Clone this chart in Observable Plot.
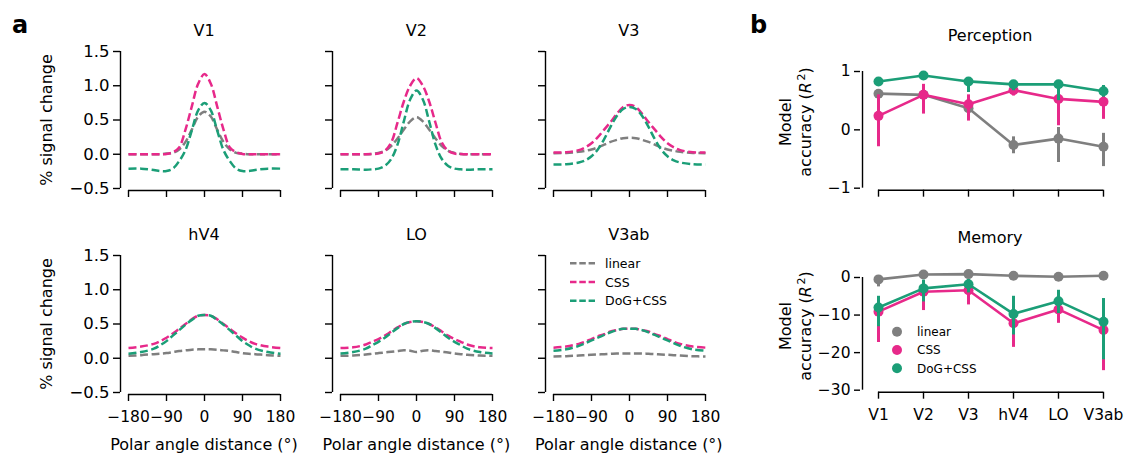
<!DOCTYPE html>
<html><head><meta charset="utf-8">
<script src="https://cdn.jsdelivr.net/npm/d3@7"></script>
<script src="https://cdn.jsdelivr.net/npm/@observablehq/plot@0.6"></script>
<style>
html,body{margin:0;padding:0;background:#fff;}
#root{position:relative;width:1127px;height:457px;overflow:hidden;font-family:"DejaVu Sans",sans-serif;}
#root svg{position:absolute;}
</style></head><body><div id="root"></div>
<script>
// ---------- data ----------
const angles = [-180,-150,-120,-105,-90,-75,-60,-45,-30,-15,0,15,30,45,60,75,90,105,120,150,180];
const models = ["linear","CSS","DoG+CSS"];
const modelColors = ["#7f7f7f","#e7298a","#1b9e77"];
const regions = ["V1","V2","V3","hV4","LO","V3ab"];
const xTicksA = [-180,-90,0,90,180];
const yTicksA = [-0.5,0,0.5,1,1.5];

const v1Linear = [0,0,0,0,0.01,0.02,0.07,0.18,0.36,0.55,0.62,0.55,0.36,0.18,0.07,0.02,0.01,0,0,0,0];
const v1Css    = [0,0,0,0,0.005,0.03,0.1,0.36,0.7,1.03,1.17,1.03,0.7,0.36,0.1,0.03,0.005,0,0,0,0];
const v1Dog    = [-0.21,-0.21,-0.23,-0.245,-0.245,-0.21,-0.1,0.06,0.35,0.64,0.75,0.64,0.35,0.06,-0.1,-0.21,-0.245,-0.245,-0.23,-0.21,-0.21];

const v2Linear = [0,0,0,0.005,0.02,0.05,0.12,0.23,0.36,0.48,0.54,0.48,0.36,0.23,0.12,0.05,0.02,0.005,0,0,0];
const v2Css    = [0,0,0,0.003,0.01,0.05,0.17,0.46,0.77,1.0,1.11,1.0,0.77,0.46,0.17,0.05,0.01,0.003,0,0,0];
const v2Dog    = [-0.22,-0.22,-0.225,-0.22,-0.21,-0.17,-0.07,0.14,0.48,0.8,0.93,0.8,0.48,0.14,-0.07,-0.17,-0.21,-0.22,-0.225,-0.22,-0.22];

const v3Linear = [0.015,0.02,0.035,0.05,0.07,0.1,0.14,0.18,0.21,0.235,0.24,0.235,0.21,0.18,0.14,0.1,0.07,0.05,0.035,0.02,0.015];
const v3Css    = [0.025,0.03,0.06,0.1,0.16,0.25,0.36,0.47,0.59,0.69,0.72,0.69,0.59,0.47,0.36,0.25,0.16,0.1,0.06,0.03,0.025];
const v3Dog    = [-0.15,-0.145,-0.12,-0.09,-0.03,0.07,0.22,0.4,0.56,0.66,0.69,0.66,0.56,0.4,0.22,0.07,-0.03,-0.09,-0.12,-0.145,-0.15];

const hv4Linear = [0.035,0.045,0.06,0.065,0.075,0.09,0.105,0.115,0.125,0.13,0.13,0.13,0.125,0.115,0.105,0.09,0.075,0.065,0.06,0.045,0.035];
const hv4Css    = [0.15,0.17,0.21,0.25,0.3,0.36,0.43,0.5,0.57,0.62,0.63,0.62,0.57,0.5,0.43,0.36,0.3,0.25,0.21,0.17,0.15];
const hv4Dog    = [0.065,0.09,0.14,0.19,0.25,0.33,0.41,0.49,0.56,0.62,0.63,0.62,0.56,0.49,0.41,0.33,0.25,0.19,0.14,0.09,0.065];

const loLinear = [0.035,0.04,0.055,0.065,0.075,0.085,0.095,0.105,0.115,0.11,0.09,0.11,0.115,0.105,0.095,0.085,0.07,0.06,0.05,0.04,0.035];
const loCss    = [0.15,0.16,0.2,0.24,0.28,0.33,0.39,0.45,0.5,0.53,0.54,0.53,0.5,0.45,0.39,0.33,0.28,0.24,0.2,0.16,0.15];
const loDog    = [0.07,0.09,0.14,0.19,0.24,0.3,0.37,0.44,0.5,0.53,0.54,0.53,0.5,0.44,0.37,0.3,0.24,0.19,0.14,0.09,0.07];

const v3abLinear = [0.025,0.03,0.04,0.045,0.05,0.055,0.06,0.065,0.07,0.07,0.07,0.07,0.07,0.065,0.06,0.055,0.05,0.045,0.04,0.03,0.025];
const v3abCss    = [0.155,0.17,0.21,0.24,0.28,0.32,0.35,0.39,0.41,0.43,0.43,0.43,0.41,0.39,0.35,0.32,0.28,0.24,0.21,0.17,0.155];
const v3abDog    = [0.11,0.13,0.18,0.22,0.26,0.3,0.34,0.38,0.41,0.43,0.43,0.43,0.41,0.38,0.34,0.3,0.26,0.22,0.18,0.13,0.11];

// panel b: Perception
const percTicks = [-1,0,1];
const percLinear   = [0.62,0.6,0.37,-0.26,-0.15,-0.29];
const percLinearLo = [0.55,0.5,0.24,-0.41,-0.56,-0.63];
const percLinearHi = [0.69,0.68,0.5,-0.12,0.04,-0.06];
const percCss      = [0.24,0.6,0.44,0.68,0.53,0.48];
const percCssLo    = [-0.29,0.27,0.15,0.58,0.07,0.18];
const percCssHi    = [0.6,0.78,0.6,0.76,0.73,0.58];
const percDog      = [0.83,0.93,0.83,0.78,0.78,0.66];
const percDogLo    = [0.75,0.87,0.64,0.67,0.5,0.56];
const percDogHi    = [0.89,1.0,0.87,0.84,0.84,0.76];

// panel b: Memory
const memTicks = [-30,-20,-10,0];
const memLinear   = [-0.5,0.8,0.9,0.45,0.2,0.45];
const memLinearLo = [-2.5,0.3,0.4,0,-0.3,0];
const memLinearHi = [0.5,1.3,1.4,0.9,0.7,0.9];
const memCss      = [-9.1,-3.8,-3.4,-12.2,-8.5,-14];
const memCssLo    = [-17.3,-8.8,-7.3,-18.6,-12.2,-24.8];
const memCssHi    = [-5.1,-1.2,-1.6,-9.1,-6,-8];
const memDog      = [-8,-2.9,-1.8,-9.7,-6.3,-11.8];
const memDogLo    = [-13.1,-6.5,-4.1,-15.3,-9.6,-21.9];
const memDogHi    = [-5,-0.7,-0.5,-5,-3.4,-5.6];

// ---------- build ----------
const FONT = "'DejaVu Sans', sans-serif";
const root = document.getElementById("root");
const tuning = [
  [v1Linear,v1Css,v1Dog],[v2Linear,v2Css,v2Dog],[v3Linear,v3Css,v3Dog],
  [hv4Linear,hv4Css,hv4Dog],[loLinear,loCss,loDog],[v3abLinear,v3abCss,v3abDog]
];
const baseStyle = {background:"transparent", fontFamily:FONT, fontSize:"15px", color:"black", maxWidth:"none", overflow:"visible"};

function tuningPanel(i) {
  const col = i % 3, row = Math.floor(i / 3);
  const spineX = 120 + 212.4 * col;
  const topPx = row === 0 ? 51 : 255;
  const ML = 50, MR = 16, MT = 10, MB = 45, IL = 8, IB = 2, PW = 152, PH = 137;
  const data = models.flatMap((m, k) => tuning[i][k].map((v, j) => ({angle: angles[j], value: v, model: m})));
  const svg = Plot.plot({
    width: ML + IL + PW + MR, height: MT + PH + IB + MB,
    marginLeft: ML, marginRight: MR, marginTop: MT, marginBottom: MB,
    style: baseStyle,
    x: {domain: [xTicksA[0], xTicksA[xTicksA.length-1]], insetLeft: IL, label: null},
    y: {domain: [yTicksA[0], yTicksA[yTicksA.length-1]], insetBottom: IB, label: null},
    color: {domain: models, range: modelColors},
    marks: [
      Plot.ruleX([{x: xTicksA[0], y1: yTicksA[0], y2: yTicksA[yTicksA.length-1]}], {x: "x", y1: "y1", y2: "y2", dx: -IL, stroke: "black", strokeWidth: 1.4}),
      Plot.ruleY([{y: yTicksA[0], x1: xTicksA[0], x2: xTicksA[xTicksA.length-1]}], {y: "y", x1: "x1", x2: "x2", dy: IB, stroke: "black", strokeWidth: 1.4}),
      Plot.axisY({ticks: yTicksA, tickSize: 7, tickPadding: 4, strokeWidth: 1.4, label: null, fontSize: 16.5,
        tickFormat: col === 0 ? d3.format(".1f") : () => ""}),
      Plot.axisX({ticks: xTicksA, tickSize: 7, tickPadding: 9, strokeWidth: 1.4, label: null, fontSize: 15.5,
        tickFormat: row === 1 ? d3.format("d") : () => ""}),
      Plot.line(data, {x: "angle", y: "value", z: "model", stroke: "model", strokeWidth: 2.5,
        strokeDasharray: "8,3.5", strokeLinecap: "butt", curve: "catmull-rom"})
    ]
  });
  svg.style.left = (spineX - ML) + "px";
  svg.style.top = (topPx - MT) + "px";
  root.appendChild(svg);
}
for (let i = 0; i < 6; i++) tuningPanel(i);

function accuracyPanel(kind) {
  const mem = kind === "Memory";
  const ticks = mem ? memTicks : percTicks;
  const series = mem
    ? [[memLinear,memLinearLo,memLinearHi],[memCss,memCssLo,memCssHi],[memDog,memDogLo,memDogHi]]
    : [[percLinear,percLinearLo,percLinearHi],[percCss,percCssLo,percCssHi],[percDog,percDogLo,percDogHi]];
  const spineX = 860;
  const topPx = mem ? 277.3 : 71;
  const PH = mem ? 112.7 : 116.7;
  const ML = 50, MR = 20, MT = 10, MB = mem ? 45 : 25, IL = 16, IB = 2, PW = 228;
  const marks = [
    Plot.ruleX([{x: regions[0], y1: ticks[0], y2: ticks[ticks.length-1]}], {x: "x", y1: "y1", y2: "y2", dx: -IL, stroke: "black", strokeWidth: 1.4}),
    Plot.ruleY([{y: ticks[0], x1: regions[0], x2: regions[regions.length-1]}], {y: "y", x1: "x1", x2: "x2", dy: IB, stroke: "black", strokeWidth: 1.4}),
    Plot.axisY({ticks, tickSize: 6, tickPadding: 4, strokeWidth: 1.4, label: null, fontSize: 15.5, tickFormat: d3.format("d")}),
    Plot.axisX({tickSize: 7, tickPadding: 10, strokeWidth: 1.4, label: null, fontSize: 15.5, tickFormat: mem ? (d => d) : () => ""})
  ];
  models.forEach((m, k) => {
    const d = regions.map((r, j) => ({region: r, model: m, value: series[k][0][j], lo: series[k][1][j], hi: series[k][2][j]}));
    marks.push(
      Plot.ruleX(d, {x: "region", y1: "lo", y2: "hi", stroke: "model", strokeWidth: 3}),
      Plot.line(d, {x: "region", y: "value", stroke: "model", strokeWidth: 2.6}),
      Plot.dot(d, {x: "region", y: "value", fill: "model", r: 5})
    );
  });
  const svg = Plot.plot({
    width: ML + IL + PW + MR, height: MT + PH + IB + MB,
    marginLeft: ML, marginRight: MR, marginTop: MT, marginBottom: MB,
    style: baseStyle,
    x: {type: "point", domain: regions, padding: 0, insetLeft: IL, label: null},
    y: {domain: [ticks[0], ticks[ticks.length-1]], insetBottom: IB, label: null},
    color: {domain: models, range: modelColors},
    marks
  });
  svg.style.left = (spineX - ML) + "px";
  svg.style.top = (topPx - MT) + "px";
  root.appendChild(svg);
}
accuracyPanel("Perception");
accuracyPanel("Memory");

// ---------- annotations (titles, labels, legends) ----------
const ov = d3.select(root).append("svg").attr("width", 1127).attr("height", 457)
  .style("left", "0px").style("top", "0px").style("pointer-events", "none")
  .attr("font-family", FONT).attr("fill", "black");

ov.append("text").attr("x", 12).attr("y", 33).attr("font-size", 24).attr("font-weight", "bold").text("a");
ov.append("text").attr("x", 750).attr("y", 33).attr("font-size", 24).attr("font-weight", "bold").text("b");

regions.forEach((r, i) => {
  const col = i % 3, row = Math.floor(i / 3);
  ov.append("text").attr("x", 204 + 212.4 * col).attr("y", row === 0 ? 35.5 : 240)
    .attr("font-size", 16).attr("text-anchor", "middle").text(r);
});
[120, 324].forEach(cy => {
  ov.append("text").attr("transform", `translate(52,${cy}) rotate(-90)`)
    .attr("font-size", 16).attr("text-anchor", "middle").text("% signal change");
});
[0, 1, 2].forEach(col => {
  ov.append("text").attr("x", 204 + 212.4 * col).attr("y", 449.5)
    .attr("font-size", 16).attr("text-anchor", "middle").text("Polar angle distance (°)");
});
ov.append("text").attr("x", 990).attr("y", 41).attr("font-size", 16).attr("text-anchor", "middle").text("Perception");
ov.append("text").attr("x", 990).attr("y", 243).attr("font-size", 16).attr("text-anchor", "middle").text("Memory");
[122, 326].forEach(cy => {
  ov.append("text").attr("transform", `translate(791,${cy}) rotate(-90)`)
    .attr("font-size", 16).attr("text-anchor", "middle").text("Model");
  const t = ov.append("text").attr("transform", `translate(811,${cy}) rotate(-90)`)
    .attr("font-size", 16).attr("text-anchor", "middle");
  t.append("tspan").text("accuracy (");
  t.append("tspan").attr("font-style", "italic").text("R");
  t.append("tspan").attr("dx", 1.5).attr("dy", -6).attr("font-size", 11).text("2");
  t.append("tspan").attr("dy", 6).text(")");
});

// legend panel a (inside V3ab)
models.forEach((m, k) => {
  const y = 263.3 + 18.7 * k;
  ov.append("line").attr("x1", 570).attr("x2", 595).attr("y1", y).attr("y2", y)
    .attr("stroke", modelColors[k]).attr("stroke-width", 2.5).attr("stroke-dasharray", "6.5,2.8");
  ov.append("text").attr("x", 605).attr("y", y + 4.5).attr("font-size", 12.5).text(m);
});
// legend panel b (inside Memory)
models.forEach((m, k) => {
  const y = 331.7 + 18.3 * k;
  ov.append("circle").attr("cx", 897).attr("cy", y).attr("r", 5).attr("fill", modelColors[k]);
  ov.append("text").attr("x", 917).attr("y", y + 4.3).attr("font-size", 12).text(m);
});
</script></body></html>
